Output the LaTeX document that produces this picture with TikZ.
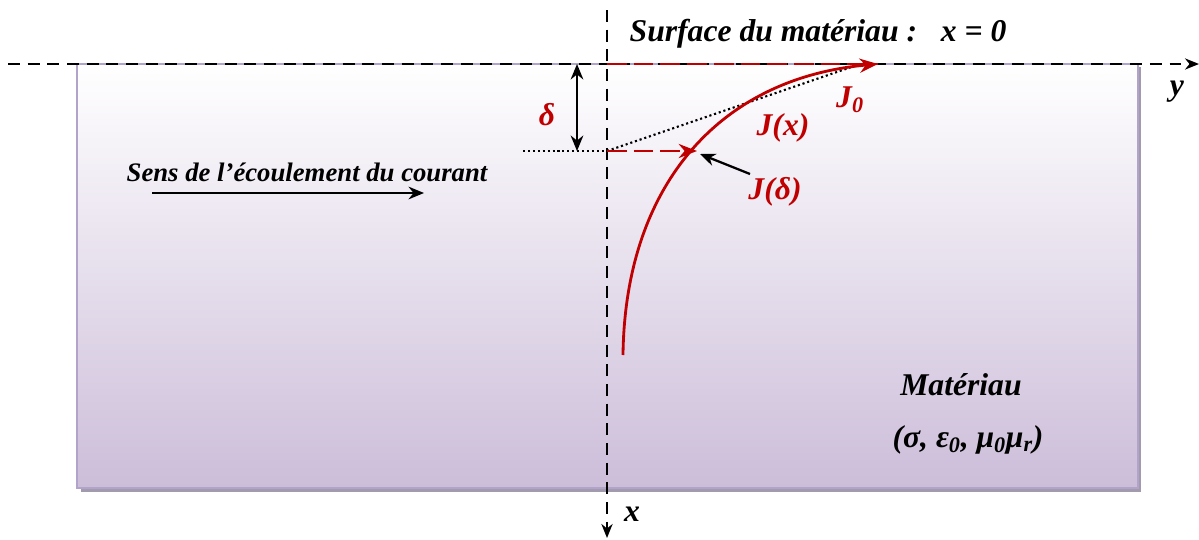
\documentclass[tikz,border=0pt]{standalone}
\usepackage{fontspec}
\setmainfont{Liberation Serif}
\usepackage{xcolor}
\usetikzlibrary{arrows.meta,positioning,calc}
\definecolor{jred}{RGB}{192,0,0}
\definecolor{lavtop}{RGB}{255,255,255}
\definecolor{lavmid}{RGB}{236,231,241}
\definecolor{lavbot}{RGB}{204,189,217}
\definecolor{lavedge}{RGB}{178,163,202}
\definecolor{shadowgrey}{RGB}{162,154,173}

\begin{document}
\begin{tikzpicture}[x=0.025cm, y=-0.025cm,
  lbl/.style={font=\fontsize{19}{21}\selectfont\bfseries\itshape, inner sep=1pt},
  biglbl/.style={lbl, font=\fontsize{22.5}{25}\selectfont\bfseries\itshape},
  redlbl/.style={biglbl, text=jred},
  axis/.style={dashed, dash pattern=on 8.5pt off 5.5pt, line width=1.4pt, -{Stealth[length=10pt, width=8pt]}},
  arr/.style={-{Stealth[length=11pt, width=9pt]}, line width=1.6pt},
  redarr/.style={-{Stealth[length=13pt, width=10pt]}, line width=2pt, draw=jred},
  dots/.style={dotted, line width=1.5pt}
]
\useasboundingbox (0,0) rectangle (1199,540);

% material block
\fill[shadowgrey] (81,67) rectangle (1141,492);
\shade[top color=lavtop, middle color=lavmid, bottom color=lavbot, draw=lavedge, line width=1.5pt]
  (77,64) rectangle (1138,488);

% axes
\coordinate (o) at (607,64);
\coordinate (yl) at (8,64);
\coordinate (yr) at (1199,64);
\coordinate (xt) at (607,10);
\coordinate (xb) at (607,538);
\draw[axis] (yl) -- (yr);
\draw[axis] (xt) -- (xb);
\node[biglbl] (ylab) at (1177,92) {y};
\node[biglbl] (xlab) at (632,514) {x};
\node[biglbl, anchor=west] (surf) at (628,34)
  {Surface du matériau :\ \ \ x = 0};

% skin depth
\coordinate (d) at (607,151);
\coordinate (dl) at (523,151);
\coordinate (jd) at (697,151);
\coordinate (j0) at (878,64);
\coordinate (tg) at (866,62);
\draw[dots] (dl) -- (d);
\draw[{Stealth[length=11pt, width=9pt]}-{Stealth[length=11pt, width=9pt]}, line width=1.6pt]
  (577,64) -- (577,151);
\node[redlbl] (delta) at (547,115) {δ};

% current density profile
\draw[dots] (d) -- (tg);
\draw[redarr, dashed, dash pattern=on 14pt off 5pt, -] (o) -- (j0);
\draw[redarr, dashed, dash pattern=on 14pt off 5pt] (d) -- (jd);
\draw[redarr] (623,355) .. controls (625,185) and (720,78) .. (j0);
\node[redlbl] (j0lab) at (850,100) {J\textsubscript{0}};
\node[redlbl] (jxlab) at (783,128) {J(x)};
\node[redlbl] (jdlab) at (775,192) {J(δ)};
\coordinate (jdtail) at (750,174);
\draw[arr] (jdtail) -- (700,154);

% flow direction
\node[lbl] (sens) at (307,172) {Sens de l’écoulement du courant};
\coordinate (fl) at (152,193);
\coordinate (fr) at (424,193);
\draw[arr] (fl) -- (fr);

% material
\node[biglbl] (mat) at (961,385) {Matériau};
\node[biglbl] (par) at (968,440) {(σ, ε\textsubscript{0}, μ\textsubscript{0}μ\textsubscript{r})};
\end{tikzpicture}
\end{document}
